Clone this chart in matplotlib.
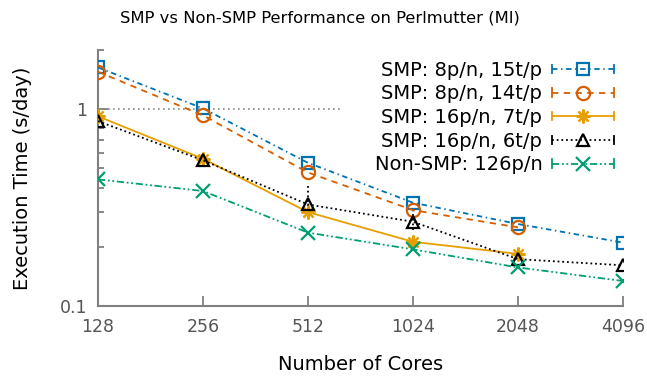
"""SMP vs Non-SMP performance, gnuplot-ish look
"""

import numpy as np
import matplotlib.pyplot as plt
from matplotlib.lines import Line2D
from matplotlib.legend_handler import HandlerLine2D

plt.rcParams["font.family"] = "DejaVu Sans"

# data
cores = [128, 256, 512, 1024, 2048, 4096]
smp_8p_15t = [1.63, 1.01, 0.534, 0.335, 0.261, 0.21]
smp_8p_14t = [1.55, 0.93, 0.477, 0.307, 0.251]
smp_16p_7t = [0.92, 0.56, 0.30, 0.212, 0.184]
smp_16p_6t = [0.87, 0.55, 0.328, 0.268, 0.173, 0.161]
smp_16p_6t_lo = [0.07, 0.0, 0.04, 0.025, 0.0, 0.0]
smp_16p_6t_hi = [0.05, 0.0, 0.082, 0.039, 0.0, 0.0]
nonsmp_126p = [0.44, 0.384, 0.236, 0.194, 0.157, 0.134]

labels = ["SMP: 8p/n, 15t/p", "SMP: 8p/n, 14t/p", "SMP: 16p/n, 7t/p",
          "SMP: 16p/n, 6t/p", "Non-SMP: 126p/n"]
xticklabels = ["128", "256", "512", "1024", "2048", "4096"]


class CapHandler(HandlerLine2D):
    # gnuplot draws little end caps on errorbar key samples
    def create_artists(self, legend, orig_handle, xdescent, ydescent,
                       width, height, fontsize, trans):
        arts = super().create_artists(legend, orig_handle, xdescent, ydescent,
                                      width, height, fontsize, trans)
        yc = (height - ydescent) / 2
        for xx in (-xdescent, width - xdescent):
            cap = Line2D([xx, xx], [yc - 3, yc + 3], color=orig_handle.get_color(),
                         lw=orig_handle.get_linewidth(), transform=trans)
            arts.append(cap)
        return arts


fig = plt.figure(figsize=(6.47, 3.76), dpi=100)
ax = fig.add_axes([98 / 647, 1 - 306 / 376, 525 / 647, 256 / 376])

LW = 1.3
styles = [
    dict(color="#0072B2", ls=(0, (3, 2, 0.8, 2)), marker="s", ms=9),
    dict(color="#D55E00", ls=(0, (3.5, 3)), marker="o", ms=9.5),
    dict(color="#E69F00", ls="-", marker=(8, 2, 0), ms=10),
    dict(color="black", ls=(0, (1, 1.6)), marker="^", ms=9),
    dict(color="#009E73", ls=(0, (4, 1.5, 1, 1.5, 1, 1.5)), marker="x", ms=9.5),
]
series = [smp_8p_15t, smp_8p_14t, smp_16p_7t, smp_16p_6t, nonsmp_126p]

ax.axhline(1, xmin=0, xmax=0.465, color="#888888", lw=1.2, ls=(0, (1, 2)), zorder=1)

handles = []
for ys, st, lab in zip(series, styles, labels):
    xs = cores[:len(ys)]
    ln, = ax.plot(xs, ys, color=st["color"], ls=st["ls"], lw=LW,
                  marker=st["marker"], ms=st["ms"], mfc="none", mew=1.6,
                  label=lab, zorder=3)
    handles.append(ln)

# error bars for the 16p/6t runs
eb = ax.errorbar(cores, smp_16p_6t, yerr=[smp_16p_6t_lo, smp_16p_6t_hi],
                 fmt="none", ecolor="black", elinewidth=1.3, capsize=0, zorder=2)
eb[2][0].set_linestyle((0, (1, 1.6)))

ax.set_xscale("log", base=2)
ax.set_yscale("log")
ax.set_xlim(128, 4096)
ax.set_ylim(0.1, 2.0)
ax.xaxis.set(major_locator=plt.FixedLocator(cores),
             minor_locator=plt.NullLocator())
ax.set_xticklabels(xticklabels)
ax.yaxis.set(major_locator=plt.FixedLocator([0.1, 1]),
             minor_locator=plt.FixedLocator([0.2, 0.3, 0.4, 0.5, 0.6, 0.7, 0.8, 0.9, 2]),
             minor_formatter=plt.NullFormatter())
ax.set_yticklabels(["0.1", "1"])

ax.spines["top"].set_visible(False)
ax.spines["right"].set_visible(False)
for s in ("left", "bottom"):
    ax.spines[s].set_color("#808080")
    ax.spines[s].set_linewidth(1.5)
ax.tick_params(which="both", direction="in", color="#808080", width=1.3,
               labelcolor="#555555", labelsize=12.5)
ax.tick_params(which="major", length=7, pad=8)
ax.tick_params(which="minor", length=4)
ax.tick_params(axis="x", pad=9)

ax.set_xlabel("Number of Cores", fontsize=14, labelpad=13)
ax.set_ylabel("Execution Time (s/day)", fontsize=14, labelpad=20)
fig.text(0.5 - 0.005, 1 - 18 / 376, "SMP vs Non-SMP Performance on Perlmutter (MI)",
         ha="center", va="center", fontsize=11.8)

leg = ax.legend(handles=handles, loc="upper right", frameon=False,
                markerfirst=False, fontsize=14, handlelength=3.2,
                handletextpad=0.5, labelspacing=0.24, borderpad=0,
                bbox_to_anchor=(624 / 647, 1 - 51 / 376),
                bbox_transform=fig.transFigure,
                handler_map={Line2D: CapHandler()})

plt.savefig("out.png")
